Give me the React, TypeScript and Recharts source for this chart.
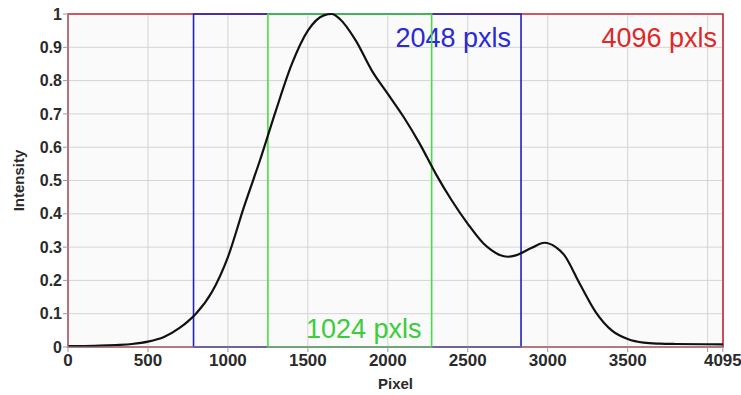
import { LineChart, Line, XAxis, YAxis, CartesianGrid, ReferenceArea } from 'recharts'

// profile
const pixels = [0, 100, 200, 300, 400, 500, 600, 700, 750, 800, 900, 1000, 1100, 1200, 1300, 1400, 1500, 1600, 1650, 1700, 1800, 1900, 2000, 2100, 2200, 2300, 2400, 2500, 2600, 2650, 2700, 2750, 2800, 2900, 2980, 3050, 3100, 3200, 3300, 3400, 3500, 3600, 3700, 3800, 4095]
const intensity = [0.003, 0.003, 0.004, 0.006, 0.009, 0.016, 0.03, 0.058, 0.077, 0.1, 0.165, 0.27, 0.42, 0.56, 0.71, 0.85, 0.95, 0.996, 1.0, 0.985, 0.92, 0.83, 0.76, 0.69, 0.61, 0.52, 0.44, 0.37, 0.31, 0.29, 0.276, 0.271, 0.275, 0.298, 0.313, 0.3, 0.278, 0.19, 0.105, 0.05, 0.024, 0.013, 0.01, 0.009, 0.008]

const xTicks = [0, 500, 1000, 1500, 2000, 2500, 3000, 3500, 4000, 4095]
const yTicks = [0, 0.1, 0.2, 0.3, 0.4, 0.5, 0.6, 0.7, 0.8, 0.9, 1]

// windows: [start, end, label]
const fullWindow = [0, 4096, '4096 pxls']
const midWindow = [785, 2833, '2048 pxls']
const smallWindow = [1250, 2274, '1024 pxls']

const data = pixels.map((p, i) => ({ pixel: p, value: intensity[i] }))

const tickStyle = { fontFamily: 'Arial, "Liberation Sans", sans-serif', fontWeight: 'bold', fill: '#2a2a2a' }

function topRightText(text: string, color: string, dx: number) {
  return ({ viewBox }: any) => (
    <text x={viewBox.x + viewBox.width - dx} y={viewBox.y + 33} textAnchor="end"
      fontFamily='Arial, "Liberation Sans", sans-serif' fontSize={27} fill={color}>
      {text}
    </text>
  )
}

function bottomRightText(text: string, color: string, dx: number) {
  return ({ viewBox }: any) => (
    <text x={viewBox.x + viewBox.width - dx} y={viewBox.y + viewBox.height - 9} textAnchor="end"
      fontFamily='Arial, "Liberation Sans", sans-serif' fontSize={27} fill={color}>
      {text}
    </text>
  )
}

export default function App() {
  return (
    <div style={{ position: 'absolute', left: 0, top: 0, background: '#fff' }}>
      <LineChart width={741} height={395} data={data} margin={{ top: 14, right: 18, bottom: 0, left: 0 }}>
        <CartesianGrid stroke="#d4d4d4" fill="#fafafa" />
        <XAxis
          type="number"
          dataKey="pixel"
          domain={[0, 4096]}
          ticks={xTicks}
          interval={0}
          tickFormatter={(v) => (v === 4000 ? '' : String(v))}
          tick={{ ...tickStyle, fontSize: 17 }}
          tickSize={5}
          stroke="#999"
          height={48}
          label={({ viewBox }: any) => (
            <text x={viewBox.x + viewBox.width / 2} y={389} textAnchor="middle" {...tickStyle} fontSize={15}>
              Pixel
            </text>
          )}
        />
        <YAxis
          type="number"
          domain={[0, 1]}
          ticks={yTicks}
          interval={0}
          tick={{ ...tickStyle, fontSize: 16 }}
          tickSize={5}
          tickMargin={1}
          stroke="#999"
          width={68}
          label={({ viewBox }: any) => (
            <text x={24} y={viewBox.y + viewBox.height / 2} transform={`rotate(-90 24 ${viewBox.y + viewBox.height / 2})`}
              textAnchor="middle" {...tickStyle} fontSize={15}>
              Intensity
            </text>
          )}
        />
        <ReferenceArea x1={fullWindow[0] as number} x2={fullWindow[1] as number} y1={0} y2={1}
          fill="none" stroke="#c8283c" strokeWidth={1.6} fillOpacity={0}
          label={topRightText(fullWindow[2] as string, '#e02828', 6)} />
        <ReferenceArea x1={midWindow[0] as number} x2={midWindow[1] as number} y1={0} y2={1}
          fill="none" stroke="#2222b8" strokeWidth={1.6} fillOpacity={0}
          label={topRightText(midWindow[2] as string, '#2a2ad6', 10)} />
        <ReferenceArea x1={smallWindow[0] as number} x2={smallWindow[1] as number} y1={0} y2={1}
          fill="none" stroke="#44dd44" strokeWidth={1.6} fillOpacity={0}
          label={bottomRightText(smallWindow[2] as string, '#3ccc3c', 10)} />
        <Line type="monotone" dataKey="value" stroke="#111" strokeWidth={2.2} dot={false} isAnimationActive={false} />
      </LineChart>
    </div>
  )
}
